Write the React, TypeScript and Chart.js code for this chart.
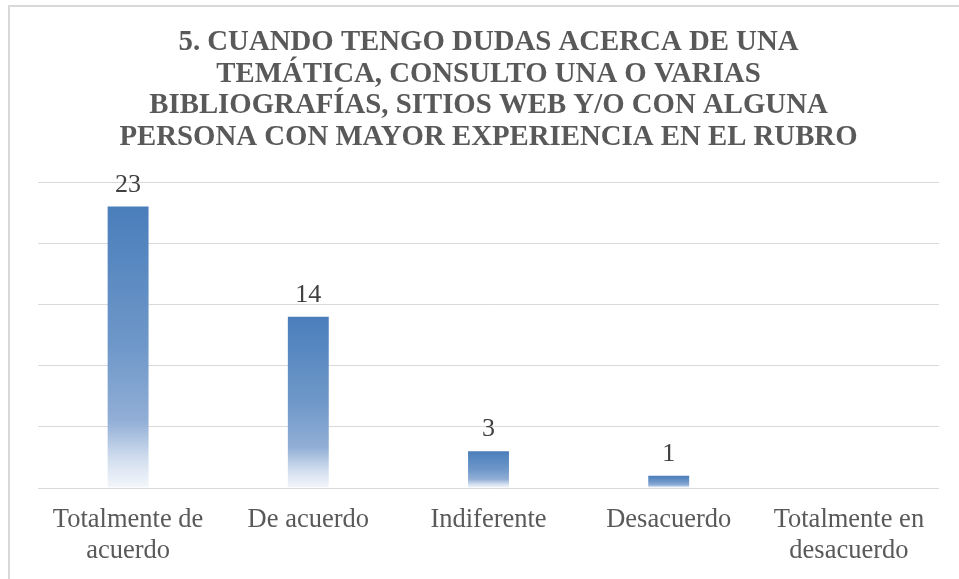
import React, { useEffect, useRef } from "react";
import { Chart, registerables } from "chart.js";

Chart.register(...registerables);

const titleLines = [
  "5. CUANDO TENGO DUDAS ACERCA DE UNA",
  "TEMÁTICA, CONSULTO UNA O VARIAS",
  "BIBLIOGRAFÍAS, SITIOS WEB Y/O CON ALGUNA",
  "PERSONA CON MAYOR EXPERIENCIA EN EL RUBRO",
];
const categories = [
  ["Totalmente de", "acuerdo"],
  "De acuerdo",
  "Indiferente",
  "Desacuerdo",
  ["Totalmente en", "desacuerdo"],
];
const values = [23, 14, 3, 1, 0];
const yMax = 25;
const yStep = 5;

const FONT = "'Liberation Serif', 'Times New Roman', serif";

const valueLabels = {
  id: "valueLabels",
  afterDatasetsDraw(chart: any) {
    const ctx = chart.ctx;
    const meta = chart.getDatasetMeta(0);
    ctx.save();
    ctx.font = `26px ${FONT}`;
    ctx.fillStyle = "#404040";
    ctx.textAlign = "center";
    ctx.textBaseline = "alphabetic";
    meta.data.forEach((bar: any, i: number) => {
      const v = values[i];
      if (!v) return;
      ctx.fillText(String(v), bar.x, bar.y - 15);
    });
    ctx.restore();
  },
};

export default function App() {
  const ref = useRef<HTMLCanvasElement>(null);
  useEffect(() => {
    document.body.style.margin = "0";
    const canvas = ref.current!;
    const chart = new Chart(canvas, {
      type: "bar",
      data: {
        labels: categories as any,
        datasets: [
          {
            data: values,
            backgroundColor: (c: any) => {
              const ch = c.chart;
              if (!ch.chartArea || c.raw === undefined) return "#4f81bd";
              const y = ch.scales.y;
              const top = y.getPixelForValue(c.raw);
              const bottom = y.getPixelForValue(0);
              if (Math.abs(bottom - top) < 1) return "#4f81bd";
              const g = ch.ctx.createLinearGradient(0, top, 0, bottom);
              g.addColorStop(0, "#4a7ebb");
              g.addColorStop(0.5, "#6f98c9");
              g.addColorStop(0.76, "#91aed6");
              g.addColorStop(0.9, "#d3dfef");
              g.addColorStop(1, "#f4f7fb");
              return g;
            },
            borderWidth: 0,
            categoryPercentage: 1,
            barPercentage: 0.227,
          },
        ],
      },
      options: {
        animation: false,
        responsive: false,
        maintainAspectRatio: false,
        layout: { padding: { left: 38, right: 20, top: 0, bottom: 14 } },
        plugins: {
          legend: { display: false },
          tooltip: { enabled: false },
          title: {
            display: true,
            text: titleLines,
            color: "#595959",
            font: { family: FONT, size: 28.8, weight: "bold", lineHeight: 1.095 },
            padding: { top: 27, bottom: 29 },
          },
        },
        scales: {
          x: {
            grid: { display: false, drawTicks: false },
            border: { display: false },
            ticks: {
              color: "#595959",
              font: { family: FONT, size: 26.5, lineHeight: 1.17 },
              padding: 17,
              maxRotation: 0,
              autoSkip: false,
            },
            afterFit: (s: any) => {
              s.height = 77;
            },
          },
          y: {
            min: 0,
            max: yMax,
            ticks: { display: false, stepSize: yStep },
            grid: { color: "#d9d9d9", lineWidth: 1, drawTicks: false },
            border: { display: false },
            afterFit: (s: any) => {
              s.width = 0;
            },
          },
        },
      },
      plugins: [valueLabels],
    });
    return () => chart.destroy();
  }, []);
  return (
    <div style={{ position: "relative", width: 959, height: 579, overflow: "hidden", background: "#fff" }}>
      <div
        style={{
          position: "absolute",
          left: 8,
          top: 5,
          width: 1200,
          height: 1200,
          border: "2px solid #d9d9d9",
          boxSizing: "border-box",
        }}
      />
      <canvas ref={ref} width={959} height={579} style={{ position: "absolute", left: 0, top: 0 }} />
    </div>
  );
}
